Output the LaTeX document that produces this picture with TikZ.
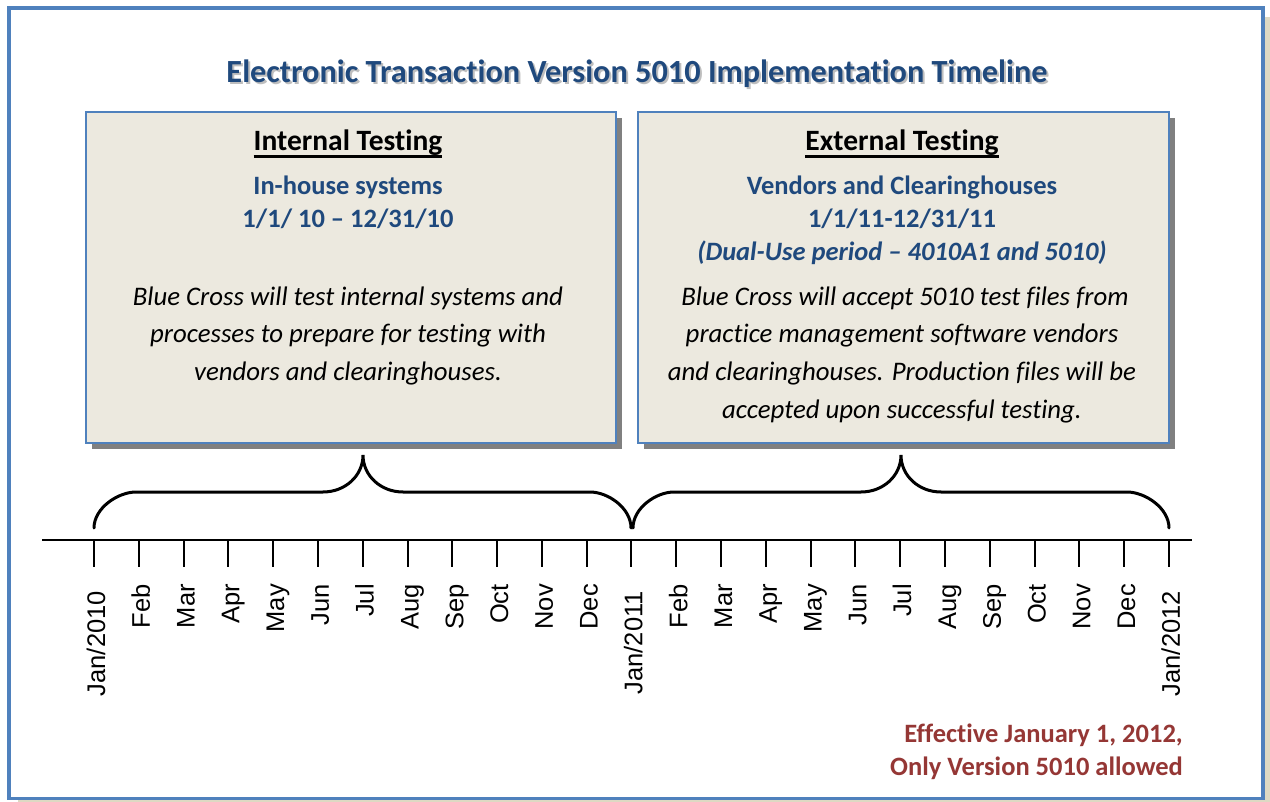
\documentclass[tikz,border=0pt]{standalone}
\usepackage{fontspec}
\setmainfont{Carlito}[Ligatures=NoCommon]
\newfontfamily\arialf{Liberation Sans}
\definecolor{frameblue}{RGB}{79,129,189}
\definecolor{titleblue}{RGB}{31,73,125}
\definecolor{boxfill}{RGB}{236,233,223}
\definecolor{shadowgray}{RGB}{128,128,128}
\definecolor{effred}{RGB}{149,55,53}
\definecolor{beigeshadow}{RGB}{221,217,195}
\definecolor{titleshadow}{RGB}{190,190,190}
\begin{document}
\begin{tikzpicture}[x=1pt,y=-1pt,
  txt/.style={inner sep=0pt, anchor=base},
  titlefont/.style={font=\fontsize{32.3}{38}\selectfont\bfseries},
  bigfont/.style={font=\fontsize{29.5}{35}\selectfont\bfseries},
  subfont/.style={font=\fontsize{26.5}{32}\selectfont\bfseries, text=titleblue},
  bodyfont/.style={font=\fontsize{26.8}{32}\selectfont\itshape},
  infobox/.style={draw=frameblue, line width=1.6pt, fill=boxfill},
  boxshadow/.style={fill=shadowgray, draw=none},
  brace/.style={line width=3pt, line cap=round},
  axis/.style={line width=2pt},
  tick/.style={line width=2pt},
  lbl/.style={inner sep=0pt, rotate=90, anchor=base east, font=\arialf\fontsize{25.5}{30}\selectfont}
]
\useasboundingbox (0,0) rectangle (1270,802);
% outer frame with shadow
\fill[beigeshadow] (18,17) rectangle (1275,810);
\draw[frameblue, line width=3.6pt, fill=white] (9,8) rectangle (1263,798.5);

% title
\node[txt, titlefont, text=titleshadow] at (639,85) {Electronic Transaction Version 5010 Implementation Timeline};
\node[txt, titlefont, text=titleblue] (title) at (637,83) {Electronic Transaction Version 5010 Implementation Timeline};

% boxes
\fill[boxshadow] (92,118) rectangle (622,449);
\fill[boxshadow] (644,118) rectangle (1175,449);
\node[infobox, minimum width=530pt, minimum height=331pt, inner sep=0pt] (lbox) at (351,277.5) {};
\node[infobox, minimum width=531pt, minimum height=331pt, inner sep=0pt] (rbox) at (903.5,277.5) {};

% left box text
\node[txt, bigfont] (lh) at (348,151) {Internal Testing};
\draw[line width=2.2pt] ([yshift=-5.5pt]lh.base west) -- ([yshift=-5.5pt]lh.base east);
\node[txt, subfont] (l1) at (348,195) {In-house systems};
\node[txt, subfont] (l2) at (348,228) {1/1/ 10 – 12/31/10};
\node[txt, bodyfont] (l3) at (348,306) {Blue Cross will test internal systems and};
\node[txt, bodyfont] (l4) at (348,343) {processes to prepare for testing with};
\node[txt, bodyfont] (l5) at (348,381) {vendors and clearinghouses.};

% right box text
\node[txt, bigfont] (rh) at (902,151) {External Testing};
\draw[line width=2.2pt] ([yshift=-5.5pt]rh.base west) -- ([yshift=-5.5pt]rh.base east);
\node[txt, subfont] (r1) at (902,195) {Vendors and Clearinghouses};
\node[txt, subfont] (r2) at (902,228) {1/1/11-12/31/11};
\node[txt, subfont, font=\fontsize{26.5}{32}\selectfont\bfseries\itshape] (r3) at (902,261) {(Dual-Use period – 4010A1 and 5010)};
\node[txt, bodyfont] (r4) at (905,306) {Blue Cross will accept 5010 test files from};
\node[txt, bodyfont] (r5) at (902,343) {practice management software vendors};
\node[txt, bodyfont] (r6) at (902,381) {and clearinghouses. Production files will be};
\node[txt, bodyfont] (r7) at (902,418) {accepted upon successful testing.};

% axis
\coordinate (axL) at (42,540);
\coordinate (axR) at (1192,540);
\draw[axis] (axL) -- (axR);

% ticks
\foreach \i in {0,...,24}{
  \pgfmathsetmacro{\xx}{94+44.79*\i}
  \coordinate (t\i) at (\xx,540);
  \draw[tick] (t\i) -- ++(0,27);
}
% month labels
\foreach \i/\m in {1/Feb,2/Mar,3/Apr,4/May,5/Jun,6/Jul,7/Aug,8/Sep,9/Oct,10/Nov,11/Dec,13/Feb,14/Mar,15/Apr,16/May,17/Jun,18/Jul,19/Aug,20/Sep,21/Oct,22/Nov,23/Dec}{
  \node[lbl] (m\i) at ([xshift=11pt,yshift=-44pt]t\i) {\m};
}
\node[lbl] (m0) at ([xshift=11pt,yshift=-51pt]t0) {Jan/2010};
\node[lbl] (m12) at ([xshift=11pt,yshift=-51pt]t12) {Jan/2011};
\node[lbl] (m24) at ([xshift=11pt,yshift=-51pt]t24) {Jan/2012};

% braces
\draw[brace] (94,528) .. controls (94,508) and (118,492) .. (136,492)
  -- (323,492) .. controls (345,492) and (363,476) .. (363,455)
  .. controls (363,476) and (381,492) .. (403,492)
  -- (590,492) .. controls (608,492) and (631,508) .. (631,528);
\draw[brace] (633,528) .. controls (633,508) and (656,492) .. (674,492)
  -- (861,492) .. controls (883,492) and (901,476) .. (901,455)
  .. controls (901,476) and (919,492) .. (941,492)
  -- (1127,492) .. controls (1145,492) and (1169,508) .. (1169,528);

% effective note
\node[txt, anchor=base east, font=\fontsize{26.5}{32}\selectfont\bfseries, text=effred] (e1) at (1183,742) {Effective January 1, 2012,};
\node[txt, anchor=base east, font=\fontsize{26.5}{32}\selectfont\bfseries, text=effred] (e2) at (1183,775) {Only Version 5010 allowed};
\end{tikzpicture}
\end{document}
